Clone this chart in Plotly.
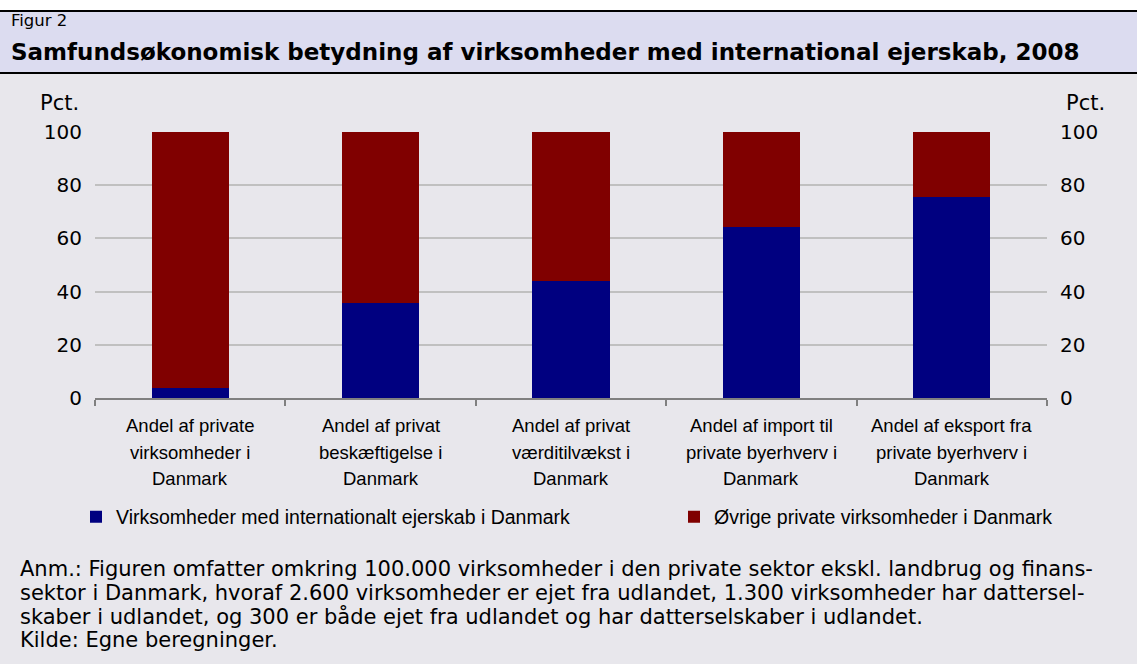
import plotly.graph_objects as go

categories = ["c1", "c2", "c3", "c4", "c5"]
cat_lines = [
    ["Andel af private", "virksomheder i", "Danmark"],
    ["Andel af privat", "beskæftigelse i", "Danmark"],
    ["Andel af privat", "værditilvækst i", "Danmark"],
    ["Andel af import til", "private byerhverv i", "Danmark"],
    ["Andel af eksport fra", "private byerhverv i", "Danmark"],
]
intl = [3.8, 35.7, 44.0, 64.3, 75.6]
other = [100 - v for v in intl]
series_names = ["Virksomheder med internationalt ejerskab i Danmark",
                "Øvrige private virksomheder i Danmark"]
y_ticks = [0, 20, 40, 60, 80, 100]

title_small = "Figur 2"
title_main = "Samfundsøkonomisk betydning af virksomheder med international ejerskab, 2008"
note_lines = [
    "Anm.: Figuren omfatter omkring 100.000 virksomheder i den private sektor ekskl. landbrug og finans-",
    "sektor i Danmark, hvoraf 2.600 virksomheder er ejet fra udlandet, 1.300 virksomheder har dattersel-",
    "skaber i udlandet, og 300 er både ejet fra udlandet og har datterselskaber i udlandet.",
    "Kilde: Egne beregninger.",
]

W, H = 1137, 664
L, R, T, B = 95, 1047, 132, 398


def px(x):
    return (x - L) / (R - L)


def py(y):
    return (B - y) / (B - T)


BLUE = "#000080"
RED = "#800000"
BG = "#E8E7EC"
BAND = "#DCDCF0"
SANS = "DejaVu Sans, Verdana, sans-serif"
ARIAL = "Liberation Sans, Arial, sans-serif"

fig = go.Figure()
fig.add_trace(go.Bar(x=categories, y=intl, name=series_names[0], marker_color=BLUE,
                     marker_line_width=0, width=0.405, legend="legend"))
fig.add_trace(go.Bar(x=categories, y=other, name=series_names[1], marker_color=RED,
                     marker_line_width=0, width=0.405, legend="legend2"))
fig.add_trace(go.Scatter(x=categories, y=[None] * 5, yaxis="y2", showlegend=False,
                         hoverinfo="skip"))

shapes = [
    dict(type="rect", xref="paper", yref="paper", x0=px(0), x1=px(W), y0=py(H), y1=py(73),
         fillcolor=BG, line_width=0, layer="below"),
    dict(type="rect", xref="paper", yref="paper", x0=px(0), x1=px(W), y0=py(73), y1=py(11),
         fillcolor=BAND, line_width=0, layer="below"),
    dict(type="line", xref="paper", yref="paper", x0=px(0), x1=px(W), y0=py(11), y1=py(11),
         line=dict(color="black", width=2), layer="below"),
    dict(type="line", xref="paper", yref="paper", x0=px(0), x1=px(W), y0=py(73), y1=py(73),
         line=dict(color="black", width=2), layer="below"),
]

annotations = [
    dict(text=title_small, x=px(9), y=py(21), xref="paper", yref="paper", showarrow=False,
         xanchor="left", yanchor="middle", font=dict(family=SANS, size=16.5, color="black")),
    dict(text="<b>" + title_main + "</b>", x=px(9), y=py(52), xref="paper", yref="paper",
         showarrow=False, xanchor="left", yanchor="middle",
         font=dict(family=SANS, size=23, color="black")),
    dict(text="Pct.", x=px(81), y=py(103), xref="paper", yref="paper", showarrow=False,
         xanchor="right", yanchor="middle", font=dict(family=SANS, size=21, color="black")),
    dict(text="Pct.", x=px(1107), y=py(103), xref="paper", yref="paper", showarrow=False,
         xanchor="right", yanchor="middle", font=dict(family=SANS, size=21, color="black")),
]
line_y = [426, 452, 478]
for cat, lines in zip(categories, cat_lines):
    for ly, t in zip(line_y, lines):
        annotations.append(dict(text=t, x=cat, y=py(ly), xref="x", yref="paper", showarrow=False,
                                xanchor="center", yanchor="middle",
                                font=dict(family=ARIAL, size=18.5, color="black")))
note_y = [569, 593, 616, 640]
for ny, t in zip(note_y, note_lines):
    annotations.append(dict(text=t, x=px(18), y=py(ny), xref="paper", yref="paper",
                            showarrow=False, xanchor="left", yanchor="middle",
                            font=dict(family=SANS, size=21, color="black")))

leg_common = dict(orientation="h", yanchor="middle", xanchor="left",
                  font=dict(family=ARIAL, size=19.5, color="black"),
                  bgcolor="rgba(0,0,0,0)", itemwidth=30)

fig.update_layout(
    width=W, height=H,
    margin=dict(l=L, r=W - R, t=T, b=H - B, pad=0),
    paper_bgcolor="white",
    plot_bgcolor="rgba(0,0,0,0)",
    barmode="stack",
    shapes=shapes,
    annotations=annotations,
    showlegend=True,
    legend=dict(x=px(76), y=py(517), **leg_common),
    legend2=dict(x=px(674), y=py(517), **leg_common),
    xaxis=dict(type="category", showticklabels=False, ticks="outside", tickson="boundaries",
               ticklen=6, tickcolor="#808080", tickwidth=1.5, showline=True,
               linecolor="#808080", linewidth=1.5, showgrid=False, zeroline=False),
    yaxis=dict(range=[0, 100], tickvals=y_ticks, showgrid=True, gridcolor="#C0C0C0",
               gridwidth=1.5, zeroline=False, ticks="", ticklabelstandoff=12,
               tickfont=dict(family=SANS, size=20, color="black"), showline=False),
    yaxis2=dict(range=[0, 100], tickvals=y_ticks, overlaying="y", side="right",
                showgrid=False, zeroline=False, ticks="", ticklabelstandoff=12,
                tickfont=dict(family=SANS, size=20, color="black"), showline=False),
)

fig.write_html("out.html", config={"displayModeBar": False},
               post_script="document.body.style.margin='0';")
